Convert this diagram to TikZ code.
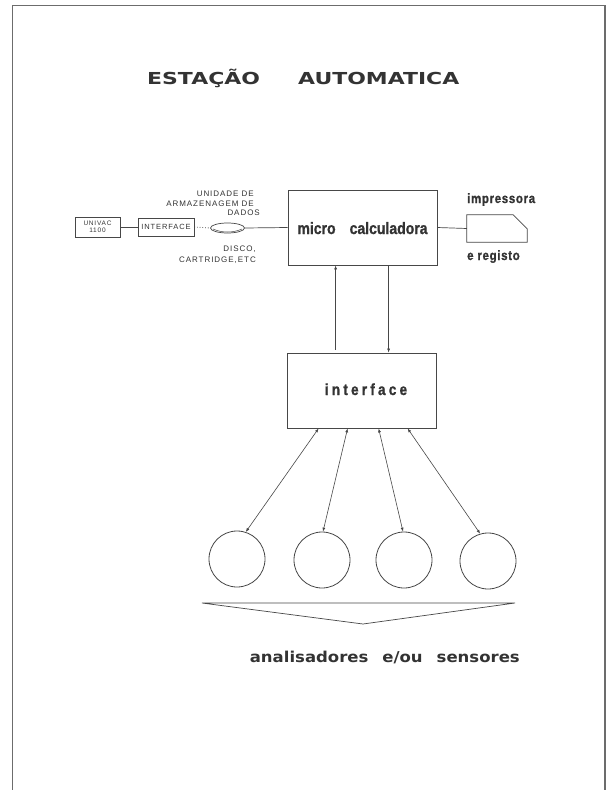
\documentclass[tikz,border=0pt]{standalone}
\usepackage{fontspec}
\setmainfont{Liberation Sans}
\newfontfamily\titlefont[FakeStretch=1.33]{DejaVu Sans Bold}
\newfontfamily\widefont[FakeStretch=1.1]{DejaVu Sans Bold}
\newfontfamily\condfont[FakeStretch=0.85,FakeBold=1]{Liberation Sans}
\newfontfamily\spacedfont[FakeStretch=0.85,FakeBold=1,LetterSpace=20]{Liberation Sans}
\newfontfamily\stencilfont[LetterSpace=12]{Liberation Sans}
\usetikzlibrary{arrows.meta,calc,shapes.geometric}
\definecolor{ink}{gray}{0.28}
\definecolor{textink}{gray}{0.2}
\tikzset{
  frameline/.style={draw=ink!80, line width=1.6pt},
  block/.style={draw=ink, line width=0.8pt, rectangle, inner sep=0pt},
  smallblock/.style={draw=ink, line width=0.7pt, rectangle, inner sep=0pt},
  sensor/.style={draw=ink, line width=0.8pt, circle, minimum size=56pt, inner sep=0pt},
  wire/.style={draw=ink, line width=0.7pt},
  link/.style={draw=ink, line width=0.6pt, {Latex[length=4pt,width=3pt]}-{Latex[length=4pt,width=3pt]}},
  uparrow/.style={draw=ink, line width=0.6pt, -{Latex[length=4pt,width=3pt]}},
  label/.style={text=textink, inner sep=0pt},
}
\begin{document}
\begin{tikzpicture}[x=1pt,y=-1pt]
\useasboundingbox (0,0) rectangle (612,790);
\fill[white] (0,0) rectangle (612,790);

% page frame (open at the bottom)
\begin{scope}
\clip (0,0) rectangle (612,790);
\draw[frameline] (12.5,800) -- (12.5,5.5) -- (605,5.5) -- (605,800);
\end{scope}

% title
\node[label, anchor=base west] (t1) at (147,84) {\titlefont\fontsize{16.5}{18}\selectfont ESTAÇÃO};
\node[label, anchor=base west] (t2) at (298,84) {\titlefont\fontsize{16.5}{18}\selectfont AUTOMATICA};

% main blocks
\node[block, minimum width=149pt, minimum height=75pt] (mc) at (362.5,227.5) {};
\node[label, anchor=base] (mctext) at (362.5,234) {\condfont\bfseries\fontsize{16.5}{18}\selectfont micro\hspace{14pt}calculadora};

\node[block, minimum width=149pt, minimum height=75pt] (ifc) at (361.5,390.5) {};
\node[label, anchor=base] (ifctext) at (366,395) {\spacedfont\bfseries\fontsize{16}{18}\selectfont interface};

% printer
\node[minimum width=60pt, minimum height=27pt, inner sep=0pt] (prt) at (497,228.5) {};
\draw[wire] (prt.south west) -- (prt.north west) -- ($(prt.north east)+(-14pt,0pt)$)
  -- ($(prt.north east)+(0pt,-14pt)$) -- (prt.south east) -- cycle;
\node[label, anchor=base west] (imp) at (467,203) {\condfont\bfseries\fontsize{13.5}{15}\selectfont\addfontfeature{LetterSpace=5}impressora};
\node[label, anchor=base west] (reg) at (467,260) {\condfont\bfseries\fontsize{13.5}{15}\selectfont\addfontfeature{LetterSpace=5}e registo};
\draw[wire] (mc.east) -- (prt.west);

% external computer chain
\node[smallblock, minimum width=45pt, minimum height=20pt] (univac) at (97.5,227) {};
\node[label, align=center, font=\stencilfont\fontsize{6.5}{7.5}\selectfont] at (univac) {UNIVAC\\1100};
\node[smallblock, minimum width=56pt, minimum height=18pt] (ifa) at (166,227) {};
\node[label, font=\stencilfont\fontsize{7.5}{8}\selectfont] at (ifa) {INTERFACE};

% storage disk
\node[ellipse, draw=ink, line width=0.7pt, minimum width=34pt, minimum height=10pt, inner sep=0pt] (dsk) at (227.5,228) {};
\draw[wire, line width=0.5pt] ($(dsk.west)+(3pt,-1pt)$) .. controls ($(dsk.center)+(-6pt,-5pt)$) and ($(dsk.center)+(6pt,-5pt)$) .. ($(dsk.east)+(-3pt,-1pt)$);

\draw[wire] (univac.east) -- (ifa.west);
\draw[wire, dotted, line width=0.8pt] (ifa.east) -- (dsk.west);
\draw[wire] (dsk.east) -- (mc.west);

\begin{scope}[every node/.style={label, anchor=base east, font=\stencilfont\fontsize{8}{9}\selectfont}]
\node (u1) at (254,196) {UNIDADE DE};
\node (u2) at (254,206) {ARMAZENAGEM DE};
\node (u3) at (260,215) {DADOS};
\node (d1) at (256,251) {DISCO,};
\node (d2) at (256,262) {CARTRIDGE,ETC};
\end{scope}

% micro calculadora <-> interface
\draw[uparrow] ($(ifc.north west)+(49pt,3pt)$) -- ($(mc.south west)+(48pt,0pt)$);
\draw[uparrow] ($(mc.south west)+(101pt,0pt)$) -- ($(ifc.north west)+(102pt,0pt)$);

% sensors
\node[sensor] (c1) at (237,559) {};
\node[sensor] (c2) at (322,560) {};
\node[sensor] (c3) at (404,560) {};
\node[sensor] (c4) at (488,561) {};

\draw[link] ($(ifc.south west)+(32pt,0pt)$) -- (c1.72);
\draw[link] ($(ifc.south west)+(61pt,0pt)$) -- (c2.88);
\draw[link] ($(ifc.south west)+(92pt,0pt)$) -- (c3.92);
\draw[link] ($(ifc.south west)+(121pt,0pt)$) -- (c4.106);

% grouping wedge under the sensors
\coordinate (wl) at (202,603);
\coordinate (wr) at (515,603);
\coordinate (wa) at (363,624);
\draw[wire, line join=miter] (wl) -- (wr) -- (wa) -- cycle;

\node[label, anchor=base east] (ana) at (520,662) {\widefont\fontsize{15}{17}\selectfont analisadores\hspace{14pt}e/ou\hspace{14pt}sensores};
\end{tikzpicture}
\end{document}
